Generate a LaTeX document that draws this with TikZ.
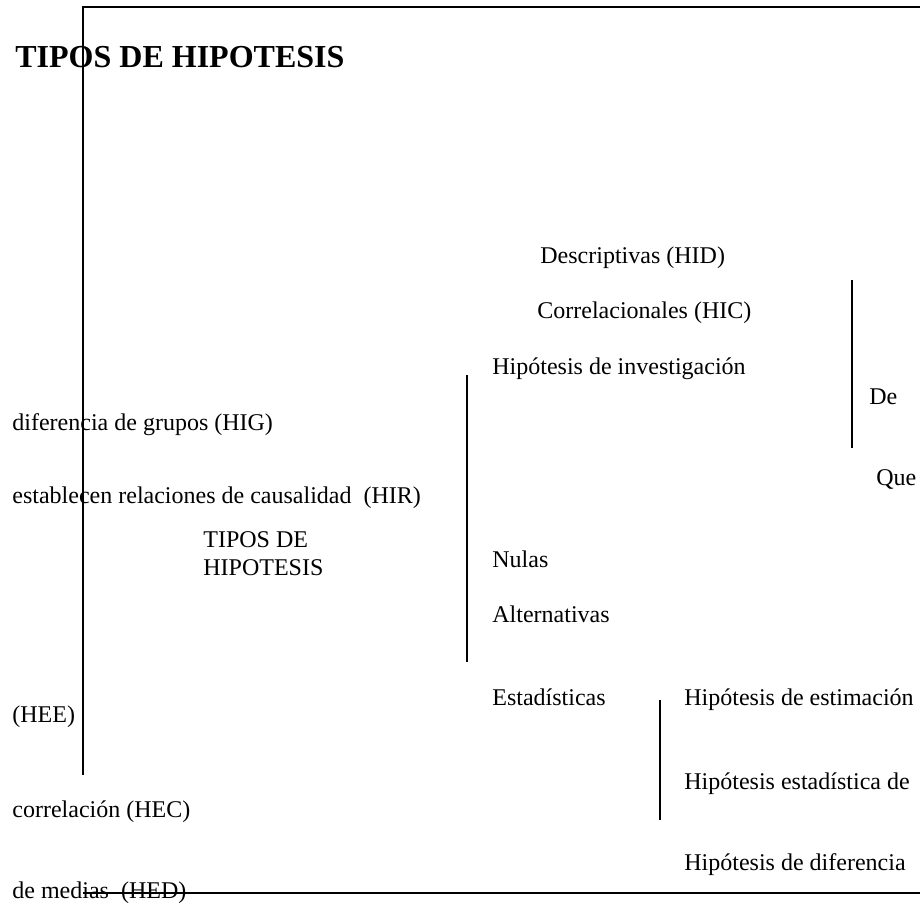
\documentclass[tikz,border=0pt]{standalone}
\usepackage{fontspec}
\setmainfont{Liberation Serif}

\begin{document}
\begin{tikzpicture}[
                    x=0.5pt, y=-0.5pt, % one unit = one pixel of the page
                    every node/.style={font=\fontsize{12}{14}\selectfont, inner sep=0pt, anchor=base west},
                    bar/.style={line width=1pt}
                ]

                \useasboundingbox (0,0) rectangle (920,904);

                % frame
                \coordinate (tl) at (83,7);
                \coordinate (tr) at (920,7);
                \coordinate (bl) at (83,775);
                \coordinate (fl) at (83,893);
                \coordinate (fr) at (920,893);
                \draw[bar] (tr) -- (tl) -- (bl);
                \draw[bar] (fl) -- (fr);

                \node[font=\fontsize{16}{19}\selectfont\bfseries] (title) at (15,68) {TIPOS DE HIPOTESIS};

                % left column
                \node (hig) at (12,430) {diferencia de grupos (HIG)};
                \node (hir) at (12,503) {establecen relaciones de causalidad\ \ (HIR)};
                \node[align=left] (tipos) at (203,575) {TIPOS DE\\HIPOTESIS};
                \node (hee) at (12,722) {(HEE)};
                \node (hec) at (12,817) {correlación (HEC)};
                \node (hed) at (12,898) {de medias\ \ (HED)};

                % middle column
                \node (hid) at (540,263) {Descriptivas (HID)};
                \node (hic) at (537,318) {Correlacionales (HIC)};
                \node (hinv) at (492,374) {Hipótesis de investigación};
                \node (nulas) at (492,567) {Nulas};
                \node (alter) at (492,622) {Alternativas};
                \node (estad) at (492,705) {Estadísticas};

                % right column
                \node (de) at (869,404) {De};
                \node (que) at (876,485) {Que};
                \node (hestim) at (684,705) {Hipótesis de estimación};
                \node (hestad) at (684,789) {Hipótesis estadística de};
                \node (hdif) at (684,870) {Hipótesis de diferencia};

                % bars
                \coordinate (m1) at (467,375);
                \coordinate (m2) at (467,662);
                \coordinate (r1) at (852,280);
                \coordinate (r2) at (852,448);
                \coordinate (s1) at (660,700);
                \coordinate (s2) at (660,820);
                \draw[bar]
                    (m1) -- (m2)
                    (r1) -- (r2)
                    (s1) -- (s2);
            \end{tikzpicture}
\end{document}
